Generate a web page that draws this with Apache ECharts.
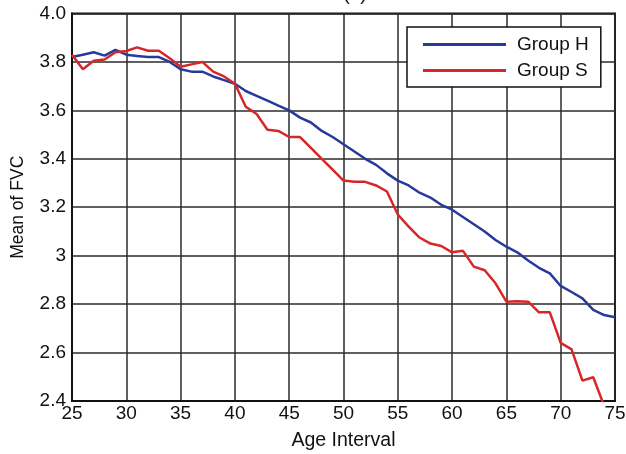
<!DOCTYPE html>
<html><head><meta charset="utf-8">
<script src="https://cdn.jsdelivr.net/npm/echarts@6/dist/echarts.min.js"></script>
<style>html,body{margin:0;padding:0;background:#fff}#c{width:626px;height:454px}</style>
</head><body><div id="c"></div>
<script>
const ages = [25,26,27,28,29,30,31,32,33,34,35,36,37,38,39,40,41,42,43,44,45,46,47,48,49,50,51,52,53,54,55,56,57,58,59,60,61,62,63,64,65,66,67,68,69,70,71,72,73,74,75];
const groupH = [3.82,3.83,3.84,3.826,3.85,3.83,3.825,3.82,3.82,3.80,3.77,3.76,3.76,3.74,3.725,3.71,3.68,3.66,3.64,3.62,3.60,3.57,3.55,3.515,3.49,3.46,3.43,3.40,3.375,3.34,3.31,3.29,3.26,3.24,3.21,3.19,3.16,3.13,3.10,3.065,3.037,3.014,2.98,2.95,2.927,2.875,2.85,2.824,2.776,2.755,2.746];
const groupS = [3.83,3.77,3.805,3.81,3.84,3.845,3.86,3.846,3.846,3.815,3.78,3.79,3.80,3.76,3.74,3.71,3.615,3.585,3.52,3.515,3.49,3.49,3.445,3.40,3.355,3.31,3.305,3.305,3.29,3.265,3.17,3.12,3.075,3.05,3.04,3.014,3.02,2.955,2.94,2.886,2.81,2.812,2.81,2.766,2.766,2.64,2.613,2.484,2.498,2.38,null];
const seriesNames = ['Group H','Group S'];
const xTicks = [25,30,35,40,45,50,55,60,65,70,75];
const yTicks = [2.4,2.6,2.8,3,3.2,3.4,3.6,3.8,4.0];

const font = 'Liberation Sans, Arial, Helvetica, sans-serif';
const toPairs = arr => ages.map((a,i)=>[a,arr[i]]).filter(p=>p[1]!==null);
const chart = echarts.init(document.getElementById('c'), null, {renderer:'canvas'});
chart.setOption({
  animation:false,
  backgroundColor:'#fff',
  title:{text:'(a)', left:350, top:-20, textAlign:'center', textStyle:{fontFamily:font,fontSize:19,fontWeight:'normal',color:'#111'}},
  grid:{left:72, right:11, top:13.5, bottom:53, containLabel:false, outerBoundsMode:'none', show:true, borderColor:'#111', borderWidth:2, backgroundColor:'#fff'},
  legend:{
    data:seriesNames, orient:'vertical', left:407, top:27,
    icon:'rect', itemWidth:83, itemHeight:3, itemGap:7,
    backgroundColor:'#fff', borderColor:'#111', borderWidth:1.5,
    padding:[8,12,7,16],
    textStyle:{fontFamily:font,fontSize:19,color:'#111',padding:[0,0,0,6]}
  },
  xAxis:{
    type:'value', min:xTicks[0], max:xTicks[xTicks.length-1], interval:5,
    name:'Age Interval', nameLocation:'middle', nameGap:30,
    nameTextStyle:{fontFamily:font,fontSize:19.5,color:'#111'},
    axisLine:{lineStyle:{color:'#111',width:2}},
    axisTick:{show:false},
    axisLabel:{fontFamily:font,fontSize:19,color:'#111',margin:3},
    splitLine:{show:true,lineStyle:{color:'#2b2b2b',width:1.5}}
  },
  yAxis:{
    type:'value', min:yTicks[0], max:yTicks[yTicks.length-1], interval:0.2,
    name:'Mean of FVC', nameLocation:'middle', nameGap:45,
    nameTextStyle:{fontFamily:font,fontSize:17.5,color:'#111'},
    axisLine:{lineStyle:{color:'#111',width:2}},
    axisTick:{show:false},
    axisLabel:{fontFamily:font,fontSize:19,color:'#111',margin:6,
      formatter:v=>{const r=Math.round(v*10)/10; return r===3?'3':r.toFixed(1);}},
    splitLine:{show:true,lineStyle:{color:'#2b2b2b',width:1.5}}
  },
  series:[
    {name:seriesNames[0], type:'line', data:toPairs(groupH), symbol:'none', lineStyle:{color:'#27399b',width:2.5}, itemStyle:{color:'#27399b'}, clip:true},
    {name:seriesNames[1], type:'line', data:toPairs(groupS), symbol:'none', lineStyle:{color:'#d62728',width:2.5}, itemStyle:{color:'#d62728'}, clip:true}
  ]
});
</script></body></html>
